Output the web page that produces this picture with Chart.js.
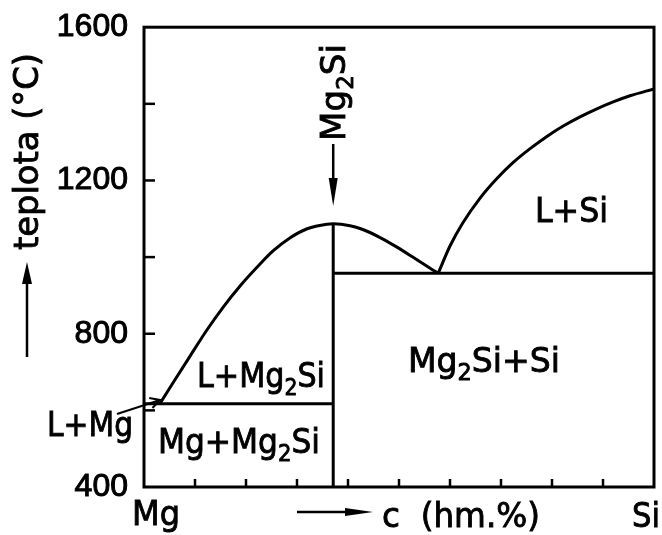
<!DOCTYPE html>
<html>
<head>
<meta charset="utf-8">
<script src="https://cdn.jsdelivr.net/npm/chart.js@4.4.1/dist/chart.umd.min.js"></script>
<style>
  html, body { margin: 0; padding: 0; background: #fff; }
  #wrap { width: 662px; height: 535px; }
</style>
</head>
<body>
<div id="wrap"><canvas id="c" width="662" height="535"></canvas></div>
<script>
// ---- data (x: wt.% Si, y: temperature °C) ----
const liqMgX = [3.1, 5.7, 9.0, 12.4, 15.5, 18.8, 22.2, 25.3, 28.6, 32.0, 35.9, 37.1, 40.4, 42.9, 46.3, 49.6, 52.7, 56.1, 57.7];
const liqMgT = [617, 672, 741, 811, 869, 924, 974, 1016, 1050, 1074, 1086, 1087, 1082, 1072, 1051, 1026, 1000, 971, 958];
const liqSiX = [57.7, 60.0, 62.5, 65.9, 69.2, 72.4, 75.7, 79.0, 82.2, 85.5, 88.8, 92.0, 95.3, 100];
const liqSiT = [958, 1029, 1089, 1154, 1205, 1247, 1283, 1315, 1342, 1366, 1387, 1405, 1421, 1439];
const eutMgX = [0, 37.1];
const eutMgT = [617, 617];
const eutSiX = [37.1, 100];
const eutSiT = [958, 958];
const compX = [37.1, 37.1];
const compT = [1087, 400];
const tempLabelTicks = [400, 800, 1200, 1600];
const endLabels = ['Mg', 'Si'];
const axisTitleY = 'teplota (°C)';
const axisTitleX = 'c (hm.%)';

const pts = (xs, ys) => xs.map((x, i) => ({ x: x, y: ys[i] }));

const LBL = '34px "DejaVu Sans"';
const SUB = '23px "DejaVu Sans"';

function measureParts(ctx, parts) {
  let w = 0;
  for (const [t, sub] of parts) { ctx.font = sub ? SUB : LBL; w += ctx.measureText(t).width; }
  return w;
}

// draws text made of parts ([text, isSubscript]) starting at (x,y), squeezed to a given width
function chemText(ctx, parts, x, y, width) {
  const nat = measureParts(ctx, parts);
  const sx = width ? width / nat : 1;
  ctx.save();
  ctx.translate(x, y);
  ctx.scale(sx, 1);
  ctx.lineWidth = 0.9;
  let cx = 0;
  for (const [t, sub] of parts) {
    ctx.font = sub ? SUB : LBL;
    const yy = sub ? 8 : 0;
    ctx.fillText(t, cx, yy);
    ctx.strokeText(t, cx, yy);
    cx += ctx.measureText(t).width;
  }
  ctx.restore();
}

function filledArrow(ctx, x1, y1, x2, y2, headLen, halfW, lw) {
  const a = Math.atan2(y2 - y1, x2 - x1);
  const bx = x2 - headLen * Math.cos(a), by = y2 - headLen * Math.sin(a);
  ctx.lineWidth = lw;
  ctx.beginPath(); ctx.moveTo(x1, y1); ctx.lineTo(bx, by); ctx.stroke();
  ctx.beginPath();
  ctx.moveTo(x2, y2);
  ctx.lineTo(bx + halfW * Math.sin(a), by - halfW * Math.cos(a));
  ctx.lineTo(bx - halfW * Math.sin(a), by + halfW * Math.cos(a));
  ctx.closePath(); ctx.fill();
}

const decor = {
  id: 'decor',
  beforeDraw(chart) {
    const ctx = chart.ctx;
    ctx.save(); ctx.fillStyle = '#fff'; ctx.fillRect(0, 0, chart.width, chart.height); ctx.restore();
  },
  afterDraw(chart) {
    const ctx = chart.ctx, a = chart.chartArea;
    const xs = chart.scales.x, ys = chart.scales.y;
    ctx.save();
    ctx.strokeStyle = '#000'; ctx.fillStyle = '#000';
    ctx.lineCap = 'butt';
    // frame
    ctx.lineWidth = 3;
    ctx.strokeRect(a.left, a.top, a.right - a.left, a.bottom - a.top);
    // inward ticks
    ctx.lineWidth = 2.5;
    ys.ticks.forEach(t => {
      if (t.value <= ys.min || t.value >= ys.max) return;
      const py = ys.getPixelForValue(t.value);
      ctx.beginPath(); ctx.moveTo(a.left, py); ctx.lineTo(a.left + 11, py); ctx.stroke();
    });
    xs.ticks.forEach(t => {
      if (t.value <= xs.min || t.value >= xs.max) return;
      const px = xs.getPixelForValue(t.value);
      ctx.beginPath(); ctx.moveTo(px, a.bottom); ctx.lineTo(px, a.bottom - 8); ctx.stroke();
    });

    ctx.textBaseline = 'alphabetic'; ctx.textAlign = 'left';
    // x end labels
    chemText(ctx, [[endLabels[0], false]], xs.getPixelForValue(0) - 12, 525, 48);
    chemText(ctx, [[endLabels[1], false]], xs.getPixelForValue(100) - 22, 527, 28);
    // x title with arrow
    filledArrow(ctx, 297, 512, 373, 512, 28, 4, 2.5);
    chemText(ctx, [[axisTitleX.replace('(', ' ('), false]], 382, 527, 158);

    // y title with arrow
    filledArrow(ctx, 27, 357, 27, 262, 22, 5, 2.5);
    ctx.save();
    ctx.translate(38, 250); ctx.rotate(-Math.PI / 2);
    chemText(ctx, [[axisTitleY, false]], 0, 0, 197);
    ctx.restore();

    // phase region labels
    chemText(ctx, [['L+Mg', false], ['2', true], ['Si', false]], 197, 387, 128);
    chemText(ctx, [['Mg+Mg', false], ['2', true], ['Si', false]], 158, 453, 162);
    chemText(ctx, [['Mg', false], ['2', true], ['Si+Si', false]], 408, 372, 152);
    chemText(ctx, [['L+Si', false]], 535, 222, 73);
    chemText(ctx, [['L+Mg', false]], 47, 436, 86);

    // L+Mg pointer arrow (open head)
    ctx.lineWidth = 2;
    const tx = 160, ty = 400;
    ctx.beginPath(); ctx.moveTo(117, 414); ctx.lineTo(tx, ty); ctx.stroke();
    const ang = Math.atan2(ty - 414, tx - 117);
    ctx.beginPath();
    ctx.moveTo(tx - 11 * Math.cos(ang - 0.5), ty - 11 * Math.sin(ang - 0.5));
    ctx.lineTo(tx, ty);
    ctx.lineTo(tx - 11 * Math.cos(ang + 0.5), ty - 11 * Math.sin(ang + 0.5));
    ctx.stroke();

    // Mg2Si compound label (rotated) with arrow
    const cxp = xs.getPixelForValue(compX[0]);
    filledArrow(ctx, cxp, 144, cxp, 206, 28, 4.5, 2.5);
    ctx.save();
    ctx.translate(cxp + 12, 141); ctx.rotate(-Math.PI / 2);
    chemText(ctx, [['Mg', false], ['2', true], ['Si', false]], 0, 0, 97);
    ctx.restore();

    ctx.restore();
  }
};

const lineDs = (data, curve) => ({
  data: data,
  showLine: true,
  borderColor: '#000',
  borderWidth: 3,
  pointRadius: 0,
  fill: false,
  cubicInterpolationMode: curve ? 'monotone' : 'default',
  tension: 0,
  borderCapStyle: 'butt'
});

new Chart(document.getElementById('c'), {
  type: 'scatter',
  data: {
    datasets: [
      lineDs(pts(liqMgX, liqMgT), true),
      lineDs(pts(liqSiX, liqSiT), true),
      lineDs(pts(eutMgX, eutMgT), false),
      lineDs(pts(eutSiX, eutSiT), false),
      lineDs(pts(compX, compT), false)
    ]
  },
  options: {
    responsive: false,
    animation: false,
    devicePixelRatio: 1,
    layout: { padding: { left: 0, top: 23, right: 8, bottom: 0 } },
    plugins: { legend: { display: false }, tooltip: { enabled: false } },
    scales: {
      x: {
        type: 'linear', min: 0, max: 100,
        ticks: { stepSize: 10, callback: () => '', font: { size: 1 } },
        grid: { display: false },
        border: { display: false },
        afterFit: s => { s.height = 48; }
      },
      y: {
        type: 'linear', min: 400, max: 1600,
        ticks: {
          stepSize: 200,
          padding: 8,
          color: '#000',
          textStrokeColor: '#000',
          textStrokeWidth: 1,
          font: { family: '"Liberation Sans"', size: 32 },
          callback: v => tempLabelTicks.includes(v) ? String(v) : ''
        },
        grid: { display: false },
        border: { display: false },
        afterFit: s => { s.width = 144; }
      }
    }
  },
  plugins: [decor]
});
</script>
</body>
</html>
